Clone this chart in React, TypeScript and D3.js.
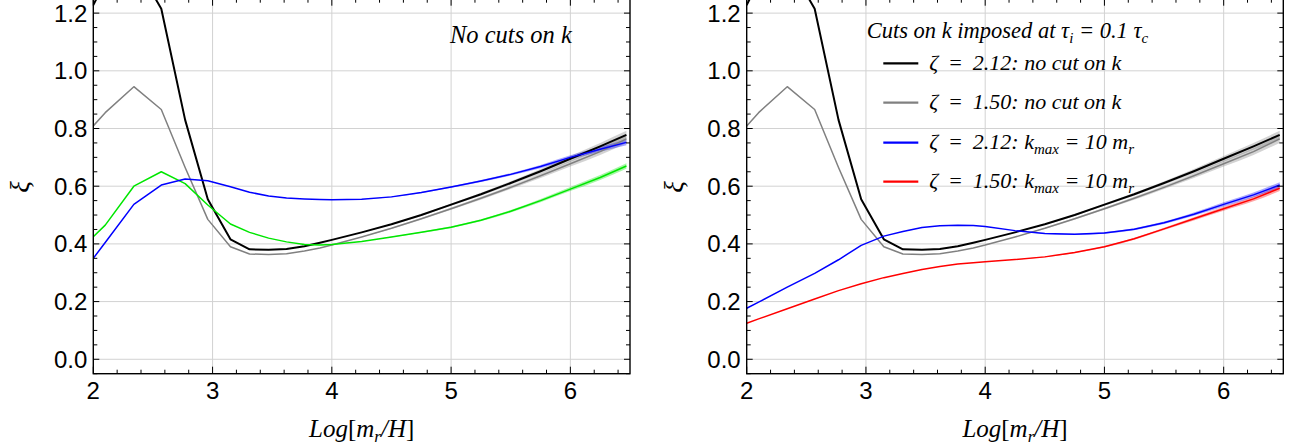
import React from 'react';
import * as d3 from 'd3';

// ---- data ----
const xGrid = [2.0, 2.1, 2.34, 2.57, 2.77, 2.96, 3.15, 3.31, 3.47, 3.62, 3.77, 3.9, 4.0, 4.25, 4.5, 4.75, 5.0, 5.25, 5.5, 5.75, 6.0, 6.25, 6.47];
const blackNoCut = [1.228, 1.31, 1.38, 1.215, 0.83, 0.555, 0.416, 0.381, 0.38, 0.382, 0.392, 0.404, 0.414, 0.44, 0.468, 0.5, 0.536, 0.572, 0.611, 0.652, 0.695, 0.738, 0.778];
const grayNoCut = [0.809, 0.855, 0.945, 0.866, 0.665, 0.485, 0.39, 0.365, 0.363, 0.366, 0.375, 0.386, 0.396, 0.424, 0.454, 0.487, 0.522, 0.558, 0.596, 0.636, 0.678, 0.72, 0.764];
const greenLeft = [0.425, 0.465, 0.6, 0.65, 0.609, 0.535, 0.469, 0.44, 0.42, 0.407, 0.398, 0.396, 0.398, 0.408, 0.424, 0.44, 0.458, 0.482, 0.513, 0.55, 0.59, 0.63, 0.67];
const blueLeft = [0.35, 0.405, 0.537, 0.604, 0.625, 0.619, 0.598, 0.579, 0.566, 0.559, 0.556, 0.554, 0.553, 0.555, 0.563, 0.578, 0.597, 0.618, 0.641, 0.668, 0.7, 0.728, 0.752];
const blueCut = [0.177, 0.198, 0.25, 0.298, 0.345, 0.395, 0.427, 0.443, 0.457, 0.463, 0.465, 0.464, 0.46, 0.446, 0.436, 0.433, 0.438, 0.451, 0.473, 0.503, 0.537, 0.57, 0.604];
const redCut = [0.125, 0.14, 0.175, 0.209, 0.238, 0.262, 0.283, 0.297, 0.311, 0.322, 0.33, 0.335, 0.338, 0.346, 0.355, 0.37, 0.39, 0.418, 0.452, 0.487, 0.522, 0.556, 0.593];
const bandHalf = [0, 0, 0, 0, 0, 0, 0, 0, 0, 0, 0, 0, 0, 0, 0.002, 0.003, 0.004, 0.005, 0.006, 0.008, 0.01, 0.012, 0.014];

const xMajorTicks = [2, 3, 4, 5, 6];
const yMajorTicks = [0.0, 0.2, 0.4, 0.6, 0.8, 1.0, 1.2];
const xDomain = [2, 6.5];
const yDomain = [-0.05, 1.25];

const legendItems = [
  { color: '#000000', zeta: '2.12', kind: 'nocut' },
  { color: '#808080', zeta: '1.50', kind: 'nocut' },
  { color: '#0000ff', zeta: '2.12', kind: 'cut' },
  { color: '#ff0000', zeta: '1.50', kind: 'cut' },
];

const SANS = '"Liberation Sans", Arial, Helvetica, sans-serif';
const SERIF = '"Liberation Serif", "Times New Roman", Times, serif';

type Series = { values: number[]; color: string; width: number; band: string; bandScale: number };

function Panel({ x0, x1, id, series, children }: { x0: number; x1: number; id: string; series: Series[]; children?: React.ReactNode }) {
  const top = -1.3;
  const bottom = 373.7;
  const x = d3.scaleLinear().domain(xDomain).range([x0, x1]);
  const y = d3.scaleLinear().domain(yDomain).range([bottom, top]);
  const xMinor = d3.range(2, 6.5001, 0.2).filter((v) => Math.abs(v - Math.round(v)) > 1e-6);
  const yMinor = d3.range(-0.05, 1.2501, 0.05).filter((v) => Math.abs(v * 5 - Math.round(v * 5)) > 1e-6);
  const pts = (vals: number[]) => xGrid.map((xv, i) => [xv, vals[i]] as [number, number]);
  const line = d3.line<[number, number]>().x((d) => x(d[0])).y((d) => y(d[1])).curve(d3.curveLinear);
  const area = (vals: number[], k: number) =>
    d3
      .area<number>()
      .x((i) => x(xGrid[i]))
      .y0((i) => y(vals[i] - bandHalf[i] * k))
      .y1((i) => y(vals[i] + bandHalf[i] * k))
      .curve(d3.curveMonotoneX)(d3.range(13, xGrid.length));
  const mid = (x0 + x1) / 2;
  const fmt = d3.format('.1f');
  return (
    <g>
      <defs>
        <clipPath id={id}>
          <rect x={x0} y={top} width={x1 - x0} height={bottom - top} />
        </clipPath>
      </defs>
      {/* grid */}
      {xMajorTicks.filter((v) => v > 2).map((v) => (
        <line key={'gx' + v} x1={x(v)} x2={x(v)} y1={top} y2={bottom} stroke="#d2d2d2" strokeWidth={1} />
      ))}
      {yMajorTicks.map((v) => (
        <line key={'gy' + v} x1={x0} x2={x1} y1={y(v)} y2={y(v)} stroke="#d2d2d2" strokeWidth={1} />
      ))}
      <g clipPath={`url(#${id})`}>
        {series.map((s, i) => (
          <path key={'b' + i} d={area(s.values, s.bandScale) || ''} fill={s.band} opacity={0.35} />
        ))}
        {series.map((s, i) => (
          <path key={'l' + i} d={line(pts(s.values)) || ''} fill="none" stroke={s.color} strokeWidth={s.width} strokeLinejoin="round" />
        ))}
      </g>
      {/* frame */}
      <rect x={x0} y={top} width={x1 - x0} height={bottom - top} fill="none" stroke="#000" strokeWidth={1.4} />
      {/* x ticks bottom & top */}
      {xMajorTicks.map((v) => (
        <g key={'xt' + v}>
          <line x1={x(v)} x2={x(v)} y1={bottom} y2={bottom - 7} stroke="#000" strokeWidth={1} />
          <line x1={x(v)} x2={x(v)} y1={top} y2={top + 7} stroke="#000" strokeWidth={1} />
          <text x={x(v)} y={399} textAnchor="middle" fontFamily={SANS} fontSize={24} fill="#000">
            {v}
          </text>
        </g>
      ))}
      {xMinor.map((v) => (
        <g key={'xm' + v}>
          <line x1={x(v)} x2={x(v)} y1={bottom} y2={bottom - 4} stroke="#000" strokeWidth={1} />
          <line x1={x(v)} x2={x(v)} y1={top} y2={top + 4} stroke="#000" strokeWidth={1} />
        </g>
      ))}
      {/* y ticks left & right */}
      {yMajorTicks.map((v) => (
        <g key={'yt' + v}>
          <line x1={x0} x2={x0 + 6} y1={y(v)} y2={y(v)} stroke="#000" strokeWidth={1} />
          <line x1={x1} x2={x1 - 6} y1={y(v)} y2={y(v)} stroke="#000" strokeWidth={1} />
          <text x={x0 - 6} y={y(v) + 8.5} textAnchor="end" fontFamily={SANS} fontSize={24} fill="#000">
            {fmt(v)}
          </text>
        </g>
      ))}
      {yMinor.map((v) => (
        <g key={'ym' + v}>
          <line x1={x0} x2={x0 + 4} y1={y(v)} y2={y(v)} stroke="#000" strokeWidth={1} />
          <line x1={x1} x2={x1 - 4} y1={y(v)} y2={y(v)} stroke="#000" strokeWidth={1} />
        </g>
      ))}
      {/* axis labels */}
      <text x={mid} y={437} textAnchor="middle" fontFamily={SERIF} fontSize={25} fill="#000">
        <tspan fontStyle="italic">Log</tspan>
        <tspan>[</tspan>
        <tspan fontStyle="italic">m</tspan>
        <tspan fontStyle="italic" fontSize={17} dy={5}>r</tspan>
        <tspan fontStyle="italic" dy={-5}>/H</tspan>
        <tspan>]</tspan>
      </text>
      <text transform={`translate(${x0 - 64},187) rotate(-90)`} textAnchor="middle" fontFamily={SERIF} fontStyle="italic" fontSize={27} fill="#000">
        ξ
      </text>
      {children}
    </g>
  );
}

export default function App() {
  const leftSeries: Series[] = [
    { values: grayNoCut, color: '#808080', width: 1.5, band: '#808080', bandScale: 1 },
    { values: blackNoCut, color: '#000000', width: 2, band: '#808080', bandScale: 1 },
    { values: greenLeft, color: '#00e600', width: 1.5, band: '#00e600', bandScale: 0.7 },
    { values: blueLeft, color: '#0000ff', width: 1.5, band: '#0000ff', bandScale: 0.7 },
  ];
  const rightSeries: Series[] = [
    { values: grayNoCut, color: '#808080', width: 1.5, band: '#808080', bandScale: 1 },
    { values: blackNoCut, color: '#000000', width: 2, band: '#808080', bandScale: 1 },
    { values: redCut, color: '#ff0000', width: 1.5, band: '#ff0000', bandScale: 0.7 },
    { values: blueCut, color: '#0000ff', width: 1.5, band: '#0000ff', bandScale: 0.7 },
  ];
  const legendY = [63.3, 102.7, 142.7, 181.7];
  return (
    <div style={{ position: 'fixed', left: 0, top: 0, background: '#fff' }}>
      <svg width={1293} height={448} style={{ display: 'block' }}>
        <rect width={1293} height={448} fill="#fff" />
        <Panel x0={93.3} x1={630} id="clipL" series={leftSeries}>
          <text x={450} y={42.7} fontFamily={SERIF} fontStyle="italic" fontSize={24.5} fill="#000">
            No cuts on k
          </text>
        </Panel>
        <Panel x0={746.7} x1={1283.3} id="clipR" series={rightSeries}>
          <text x={866.7} y={38.3} fontFamily={SERIF} fontStyle="italic" fontSize={22.5} fill="#000">
            <tspan>Cuts on k imposed at τ</tspan>
            <tspan fontSize={15} dy={5}>i</tspan>
            <tspan dy={-5}> = 0.1 τ</tspan>
            <tspan fontSize={15} dy={5}>c</tspan>
          </text>
          {legendItems.map((it, i) => (
            <g key={'lg' + i}>
              <line x1={883.3} x2={918.3} y1={legendY[i]} y2={legendY[i]} stroke={it.color} strokeWidth={2.2} />
              <text x={929.3} y={legendY[i] + 6.5} fontFamily={SERIF} fontStyle="italic" fontSize={22} fill="#000" xmlSpace="preserve">
                {it.kind === 'nocut' ? (
                  <tspan>{`ζ\u2009 = \u2009${it.zeta}: no cut on k`}</tspan>
                ) : (
                  <>
                    <tspan>{`ζ\u2009 = \u2009${it.zeta}: k`}</tspan>
                    <tspan fontSize={15} dy={5}>max</tspan>
                    <tspan dy={-5}>{' = 10 m'}</tspan>
                    <tspan fontSize={15} dy={5}>r</tspan>
                  </>
                )}
              </text>
            </g>
          ))}
        </Panel>
      </svg>
    </div>
  );
}
